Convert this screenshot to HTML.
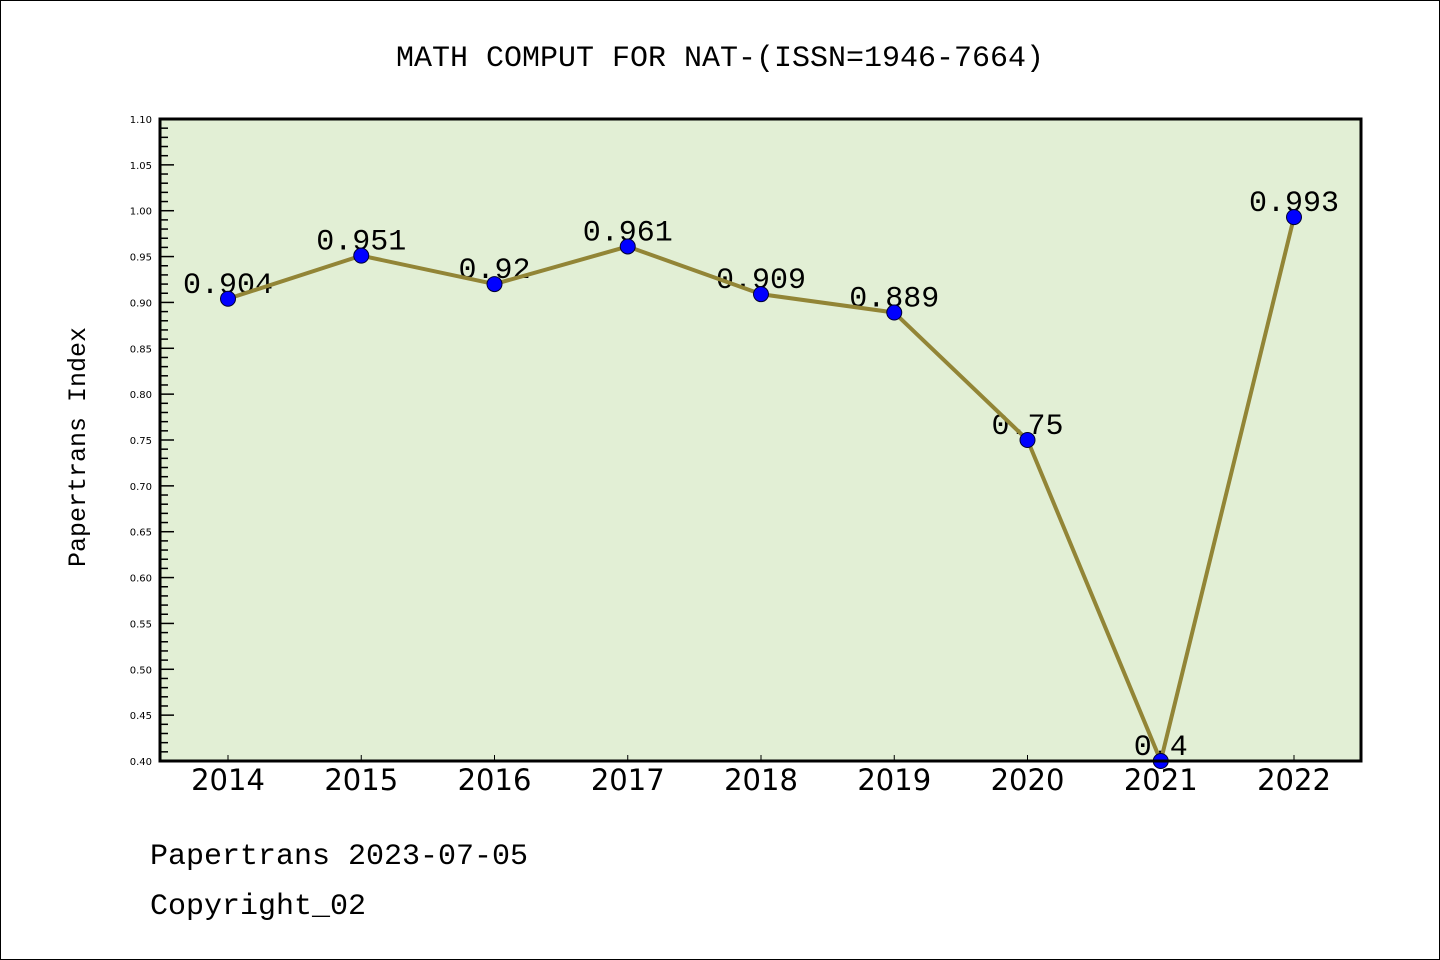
<!DOCTYPE html>
<html><head><meta charset="utf-8"><style>
body{margin:0;background:#fff}
svg{display:block}
.mono{font-family:"Liberation Mono","DejaVu Sans Mono",monospace}
.sans{font-family:"DejaVu Sans","Liberation Sans",sans-serif}
</style></head><body>
<svg id="chart" width="1440" height="960" xmlns="http://www.w3.org/2000/svg">
<rect x="0.5" y="0.5" width="1439" height="959" fill="#fff" stroke="#000"/>
<text x="720" y="66" text-anchor="middle" class="mono" font-size="30">MATH COMPUT FOR NAT-(ISSN=1946-7664)</text>
<rect x="160" y="119" width="1201" height="642" fill="#e2efd5"/>
<g id="yticks"></g>
<g id="xticks"></g>
<g id="marks"></g>
<rect x="160" y="119" width="1201" height="642" fill="none" stroke="#000" stroke-width="3"/>
<text transform="translate(85,447) rotate(-90)" text-anchor="middle" class="mono" font-size="25">Papertrans Index</text>
<text x="150" y="864" class="mono" font-size="30">Papertrans 2023-07-05</text>
<text x="150" y="914" class="mono" font-size="30">Copyright_02</text>
</svg>
<script>
const years=["2014","2015","2016","2017","2018","2019","2020","2021","2022"];
const values=[0.904,0.951,0.92,0.961,0.909,0.889,0.75,0.4,0.993];
const valueLabels=["0.904","0.951","0.92","0.961","0.909","0.889","0.75","0.4","0.993"];
const yMin=0.40,yMax=1.10;
const NS="http://www.w3.org/2000/svg";
const L=160,R=1361,T=119,B=761;
const xs=i=>228+i*(1294-228)/(years.length-1);
const ys=v=>B-(v-yMin)/(yMax-yMin)*(B-T);
function mk(t,a,p){const e=document.createElementNS(NS,t);for(const k in a)e.setAttribute(k,a[k]);p.appendChild(e);return e;}
const yg=document.getElementById('yticks');
for(let k=0;k<=70;k++){
  const v=yMin+k*0.01,y=ys(v),maj=k%5===0;
  const tk=mk('line',{x1:L,x2:L+(maj?14:8),y1:y,y2:y,stroke:'#000','stroke-width':1.5},yg);
  
  
  if(maj){const t=mk('text',{x:152,y:y+4,'text-anchor':'end','font-size':10,class:'sans'},yg);t.textContent=v.toFixed(2);
  
  }
}
const xg=document.getElementById('xticks');
years.forEach((yr,i)=>{
  const x=xs(i);
  const tk=mk('line',{x1:x,x2:x,y1:B,y2:B-6,stroke:'#000','stroke-width':1},xg);
  
  
  const t=mk('text',{x:x,y:790,'text-anchor':'middle','font-size':29,class:'sans'},xg);t.textContent=yr;
  
  
});
const g=document.getElementById('marks');
values.forEach((v,i)=>{
  const t=mk('text',{x:xs(i),y:ys(v)-6,'text-anchor':'middle','font-size':30,class:'mono'},g);t.textContent=valueLabels[i];
  
  
});
const pl=mk('polyline',{points:values.map((v,i)=>xs(i)+','+ys(v)).join(' '),fill:'none',stroke:'#928536','stroke-width':4,'stroke-linejoin':'round'},g);


values.forEach((v,i)=>{
  const c=mk('circle',{cx:xs(i),cy:ys(v),r:7.5,fill:'#0000ff',stroke:'#000030','stroke-width':1},g);
  
  
});
</script>
</body></html>
